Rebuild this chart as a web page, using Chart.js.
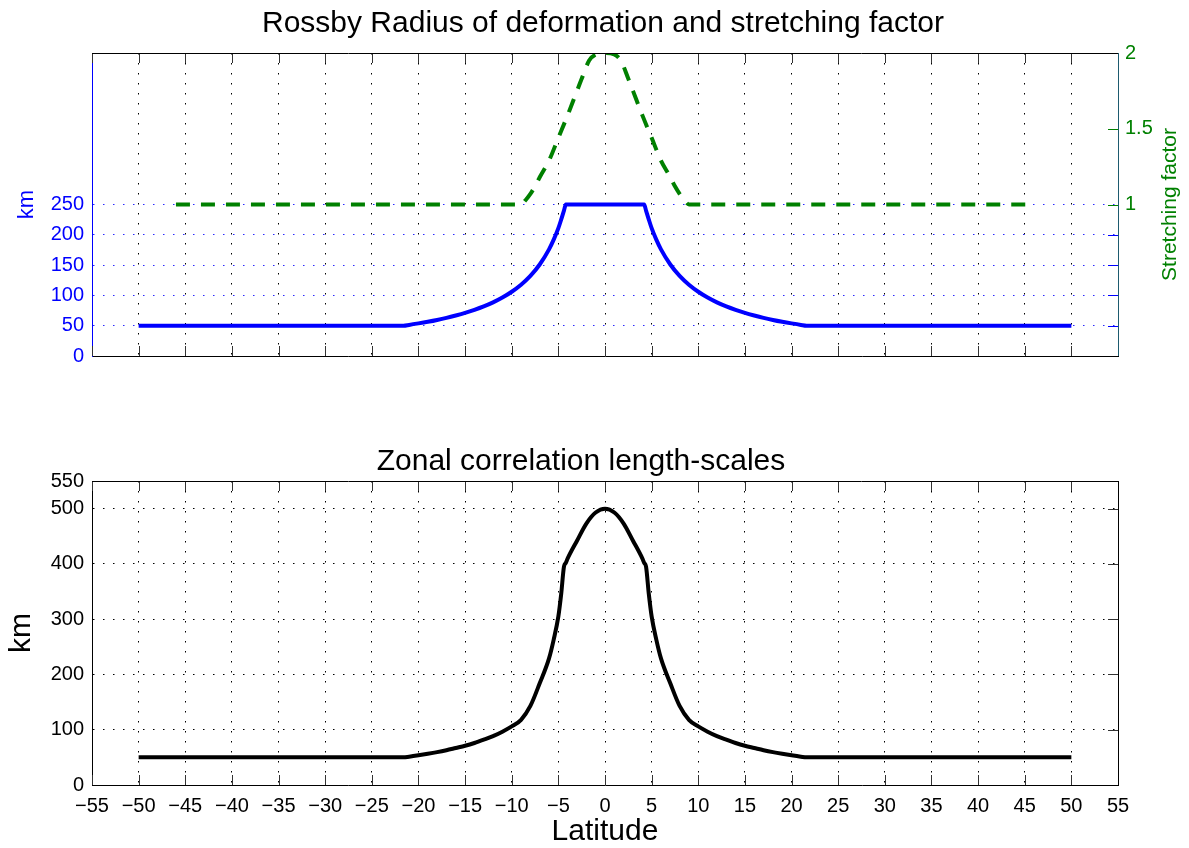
<!DOCTYPE html>
<html>
<head>
<meta charset="utf-8">
<script src="https://cdn.jsdelivr.net/npm/chart.js@4.4.1/dist/chart.umd.min.js"></script>
<style>
  html, body { margin: 0; padding: 0; background: #fff; }
  #wrap { position: relative; width: 1189px; height: 848px; }
  canvas { position: absolute; left: 0; }
  #top { top: 0; }
  #bottom { top: 430px; }
</style>
</head>
<body>
<div id="wrap">
  <canvas id="top" width="1189" height="380"></canvas>
  <canvas id="bottom" width="1189" height="418"></canvas>
</div>
<script>
const FONT = "'Liberation Sans', Arial, Helvetica, sans-serif";

// latitude grid shared by the Rossby radius and zonal length-scale curves
const latitude = [-50, -21.6, -21, -20, -19, -18, -17, -16, -15, -14, -13, -12, -11, -10, -9, -8, -7, -6,
  -5.5, -5, -4.7, -4.4, -4.2, -4, -3, -2, -1, 0, 1, 2, 3, 4, 4.2, 4.4, 4.7, 5, 5.5,
  6, 7, 8, 9, 10, 11, 12, 13, 14, 15, 16, 17, 18, 19, 20, 21, 21.6, 50];
const rossbyKm = [50, 50, 51.3, 53.8, 56.5, 59.5, 62.9, 66.8, 71.1, 76.1, 81.8, 88.5, 96.4, 106, 117.6, 132.2, 151, 176,
  192, 211, 225, 240, 250, 250, 250, 250, 250, 250, 250, 250, 250, 250, 250, 240, 225, 211, 192,
  176, 151, 132.2, 117.6, 106, 96.4, 88.5, 81.8, 76.1, 71.1, 66.8, 62.9, 59.5, 56.5, 53.8, 51.3, 50, 50];
const zonalKm = [50, 50, 51.3, 53.8, 56.5, 59.5, 63, 67, 71, 76, 82, 88.5, 96.5, 106, 118, 143, 184, 229,
  263, 305, 345, 395, 402, 410, 442, 473, 493, 500, 493, 473, 442, 410, 402, 395, 345, 305, 263,
  229, 184, 143, 118, 106, 96.5, 88.5, 82, 76, 71, 67, 63, 59.5, 56.5, 53.8, 51.3, 50, 50];

// stretching factor (dashed green)
const stretchLat = [-46, -9, -8.5, -8, -7.5, -7, -6, -5, -4, -3, -2.5, -1.7, -1, 0,
  1, 1.7, 2.5, 3, 4, 5, 6, 7, 7.5, 8, 8.5, 9, 46];
const stretchFactor = [1, 1, 1.03, 1.07, 1.12, 1.18, 1.29, 1.44, 1.59, 1.75, 1.83, 1.95, 1.99, 2,
  1.99, 1.95, 1.83, 1.75, 1.59, 1.44, 1.29, 1.18, 1.12, 1.07, 1.03, 1, 1];

// tick labels
const latTicks = [-55, -50, -45, -40, -35, -30, -25, -20, -15, -10, -5, 0, 5, 10, 15, 20, 25, 30, 35, 40, 45, 50, 55];
const rossbyTicks = [0, 50, 100, 150, 200, 250];
const stretchTicks = [1, 1.5, 2];
const zonalTicks = [0, 100, 200, 300, 400, 500, 550];

const pts = (xs, ys) => xs.map((x, i) => ({ x: x, y: ys[i] }));
const minus = v => String(v).replace('-', '\u2212');
const fixTicks = list => axis => { axis.ticks = list.map(v => ({ value: v })); };
const dotted = [1.5, 8.5];

// inner tick marks, top edge, right edge and rotated right-hand label
function framePlugin(opts) {
  return {
    id: 'frame',
    afterDraw(chart) {
      const { ctx, chartArea: a, scales } = chart;
      ctx.save();
      ctx.lineWidth = 1;
      const seg = (x1, y1, x2, y2, c) => {
        ctx.strokeStyle = c;
        ctx.beginPath();
        ctx.moveTo(x1, y1);
        ctx.lineTo(x2, y2);
        ctx.stroke();
      };
      latTicks.forEach(v => {
        const px = Math.round(scales.x.getPixelForValue(v)) + 0.5;
        seg(px, a.bottom, px, a.bottom - 10, '#333');
        seg(px, a.top, px, a.top + 10, '#333');
      });
      opts.rightTicks.forEach(t => {
        const py = Math.round(scales[t.axis].getPixelForValue(t.value)) + 0.5;
        seg(a.right, py, a.right - 10, py, t.color);
      });
      seg(a.left, Math.round(a.top) + 0.5, a.right, Math.round(a.top) + 0.5, '#000');
      seg(Math.round(a.right) + 0.5, a.top, Math.round(a.right) + 0.5, a.bottom, opts.rightColor);
      if (opts.sideLabel) {
        ctx.translate(opts.sideLabel.x, (a.top + a.bottom) / 2);
        ctx.rotate(-Math.PI / 2);
        ctx.fillStyle = opts.sideLabel.color;
        ctx.font = '21px ' + FONT;
        ctx.textAlign = 'center';
        ctx.textBaseline = 'middle';
        ctx.fillText(opts.sideLabel.text, 0, 0);
      }
      ctx.restore();
    }
  };
}

// Top panel: Rossby radius and stretching factor
new Chart(document.getElementById('top'), {
  type: 'line',
  data: {
    datasets: [
      {
        label: 'Rossby radius',
        data: pts(latitude, rossbyKm),
        yAxisID: 'y',
        borderColor: '#0000ff',
        borderWidth: 4,
        pointRadius: 0,
        cubicInterpolationMode: 'monotone',
        clip: 0
      },
      {
        label: 'Stretching factor',
        data: pts(stretchLat, stretchFactor),
        yAxisID: 'y2',
        borderColor: '#008000',
        borderWidth: 4,
        borderDash: [14, 11],
        pointRadius: 0,
        cubicInterpolationMode: 'monotone',
        clip: 0
      }
    ]
  },
  options: {
    responsive: false,
    animation: false,
    layout: { padding: { left: 17, right: 0, top: 0, bottom: 0 } },
    plugins: {
      legend: { display: false },
      tooltip: { enabled: false },
      title: {
        display: true,
        text: 'Rossby Radius of deformation and stretching factor',
        color: '#000',
        font: { family: FONT, size: 30, weight: 'normal' },
        padding: { top: 6, bottom: 11 }
      }
    },
    scales: {
      x: {
        type: 'linear',
        min: -55,
        max: 55,
        afterBuildTicks: fixTicks(latTicks),
        afterFit: s => { s.height = 24; },
        ticks: { display: false },
        grid: { color: '#000', drawTicks: false },
        border: { color: '#000', dash: dotted }
      },
      y: {
        position: 'left',
        min: 0,
        max: 500,
        afterBuildTicks: fixTicks(rossbyTicks),
        afterFit: s => { s.width = 75; },
        ticks: { color: '#0000ff', padding: 8, font: { family: FONT, size: 20 } },
        grid: {
          drawTicks: false,
          color: c => (c.tick && c.tick.value === 0) ? 'rgba(0,0,0,0)' : '#2a2aff'
        },
        border: { color: '#0000ff', dash: dotted },
        title: {
          display: true,
          text: 'km',
          color: '#0000ff',
          font: { family: FONT, size: 22 },
          padding: { top: -3, bottom: 0 }
        }
      },
      y2: {
        position: 'right',
        min: 0,
        max: 2,
        afterBuildTicks: fixTicks(stretchTicks),
        afterFit: s => { s.width = 71; },
        ticks: { color: '#008000', padding: 7, font: { family: FONT, size: 20 }, callback: v => String(v) },
        grid: { display: false, drawTicks: false },
        border: { display: false }
      }
    }
  },
  plugins: [framePlugin({
    rightColor: '#1d5a6e',
    rightTicks: [50, 100, 150, 200].map(v => ({ axis: 'y', value: v, color: '#0000ff' }))
      .concat(stretchTicks.map(v => ({ axis: 'y2', value: v, color: '#008000' }))),
    sideLabel: { x: 1170, text: 'Stretching factor', color: '#008000' }
  })]
});

// Bottom panel: zonal correlation length-scales
new Chart(document.getElementById('bottom'), {
  type: 'line',
  data: {
    datasets: [{
      label: 'Zonal correlation length-scale',
      data: pts(latitude, zonalKm),
      yAxisID: 'y',
      borderColor: '#000',
      borderWidth: 4,
      pointRadius: 0,
      cubicInterpolationMode: 'monotone',
      clip: 0
    }]
  },
  options: {
    responsive: false,
    animation: false,
    layout: { padding: { left: 0, right: 27, top: 0, bottom: 0 } },
    plugins: {
      legend: { display: false },
      tooltip: { enabled: false },
      title: {
        display: true,
        text: 'Zonal correlation length-scales',
        color: '#000',
        font: { family: FONT, size: 30, weight: 'normal' },
        padding: { top: 14, bottom: 1 }
      }
    },
    scales: {
      x: {
        type: 'linear',
        min: -55,
        max: 55,
        afterBuildTicks: fixTicks(latTicks),
        afterFit: s => { s.height = 63; },
        ticks: { color: '#000', padding: 9, maxRotation: 0, autoSkip: false, font: { family: FONT, size: 20 }, callback: minus },
        grid: { color: '#000', drawTicks: false },
        border: { color: '#000', dash: dotted },
        title: {
          display: true,
          text: 'Latitude',
          color: '#000',
          font: { family: FONT, size: 30 },
          padding: { top: 0, bottom: -2 }
        }
      },
      y: {
        position: 'left',
        min: 0,
        max: 550,
        afterBuildTicks: fixTicks(zonalTicks),
        afterFit: s => { s.width = 92; },
        ticks: { color: '#000', padding: 8, font: { family: FONT, size: 20 } },
        grid: {
          drawTicks: false,
          color: c => (c.tick && (c.tick.value === 0 || c.tick.value === 550)) ? 'rgba(0,0,0,0)' : '#000'
        },
        border: { color: '#000', dash: dotted },
        title: {
          display: true,
          text: 'km',
          color: '#000',
          font: { family: FONT, size: 30 },
          padding: { top: 4, bottom: 0 }
        }
      },
      yr: {
        position: 'right',
        min: 0,
        max: 1,
        afterFit: s => { s.width = 44; },
        ticks: { display: false },
        grid: { display: false, drawTicks: false },
        border: { display: false }
      }
    }
  },
  plugins: [framePlugin({
    rightColor: '#000',
    rightTicks: [100, 200, 300, 400, 500].map(v => ({ axis: 'y', value: v, color: '#333' }))
  })]
});
</script>
</body>
</html>
